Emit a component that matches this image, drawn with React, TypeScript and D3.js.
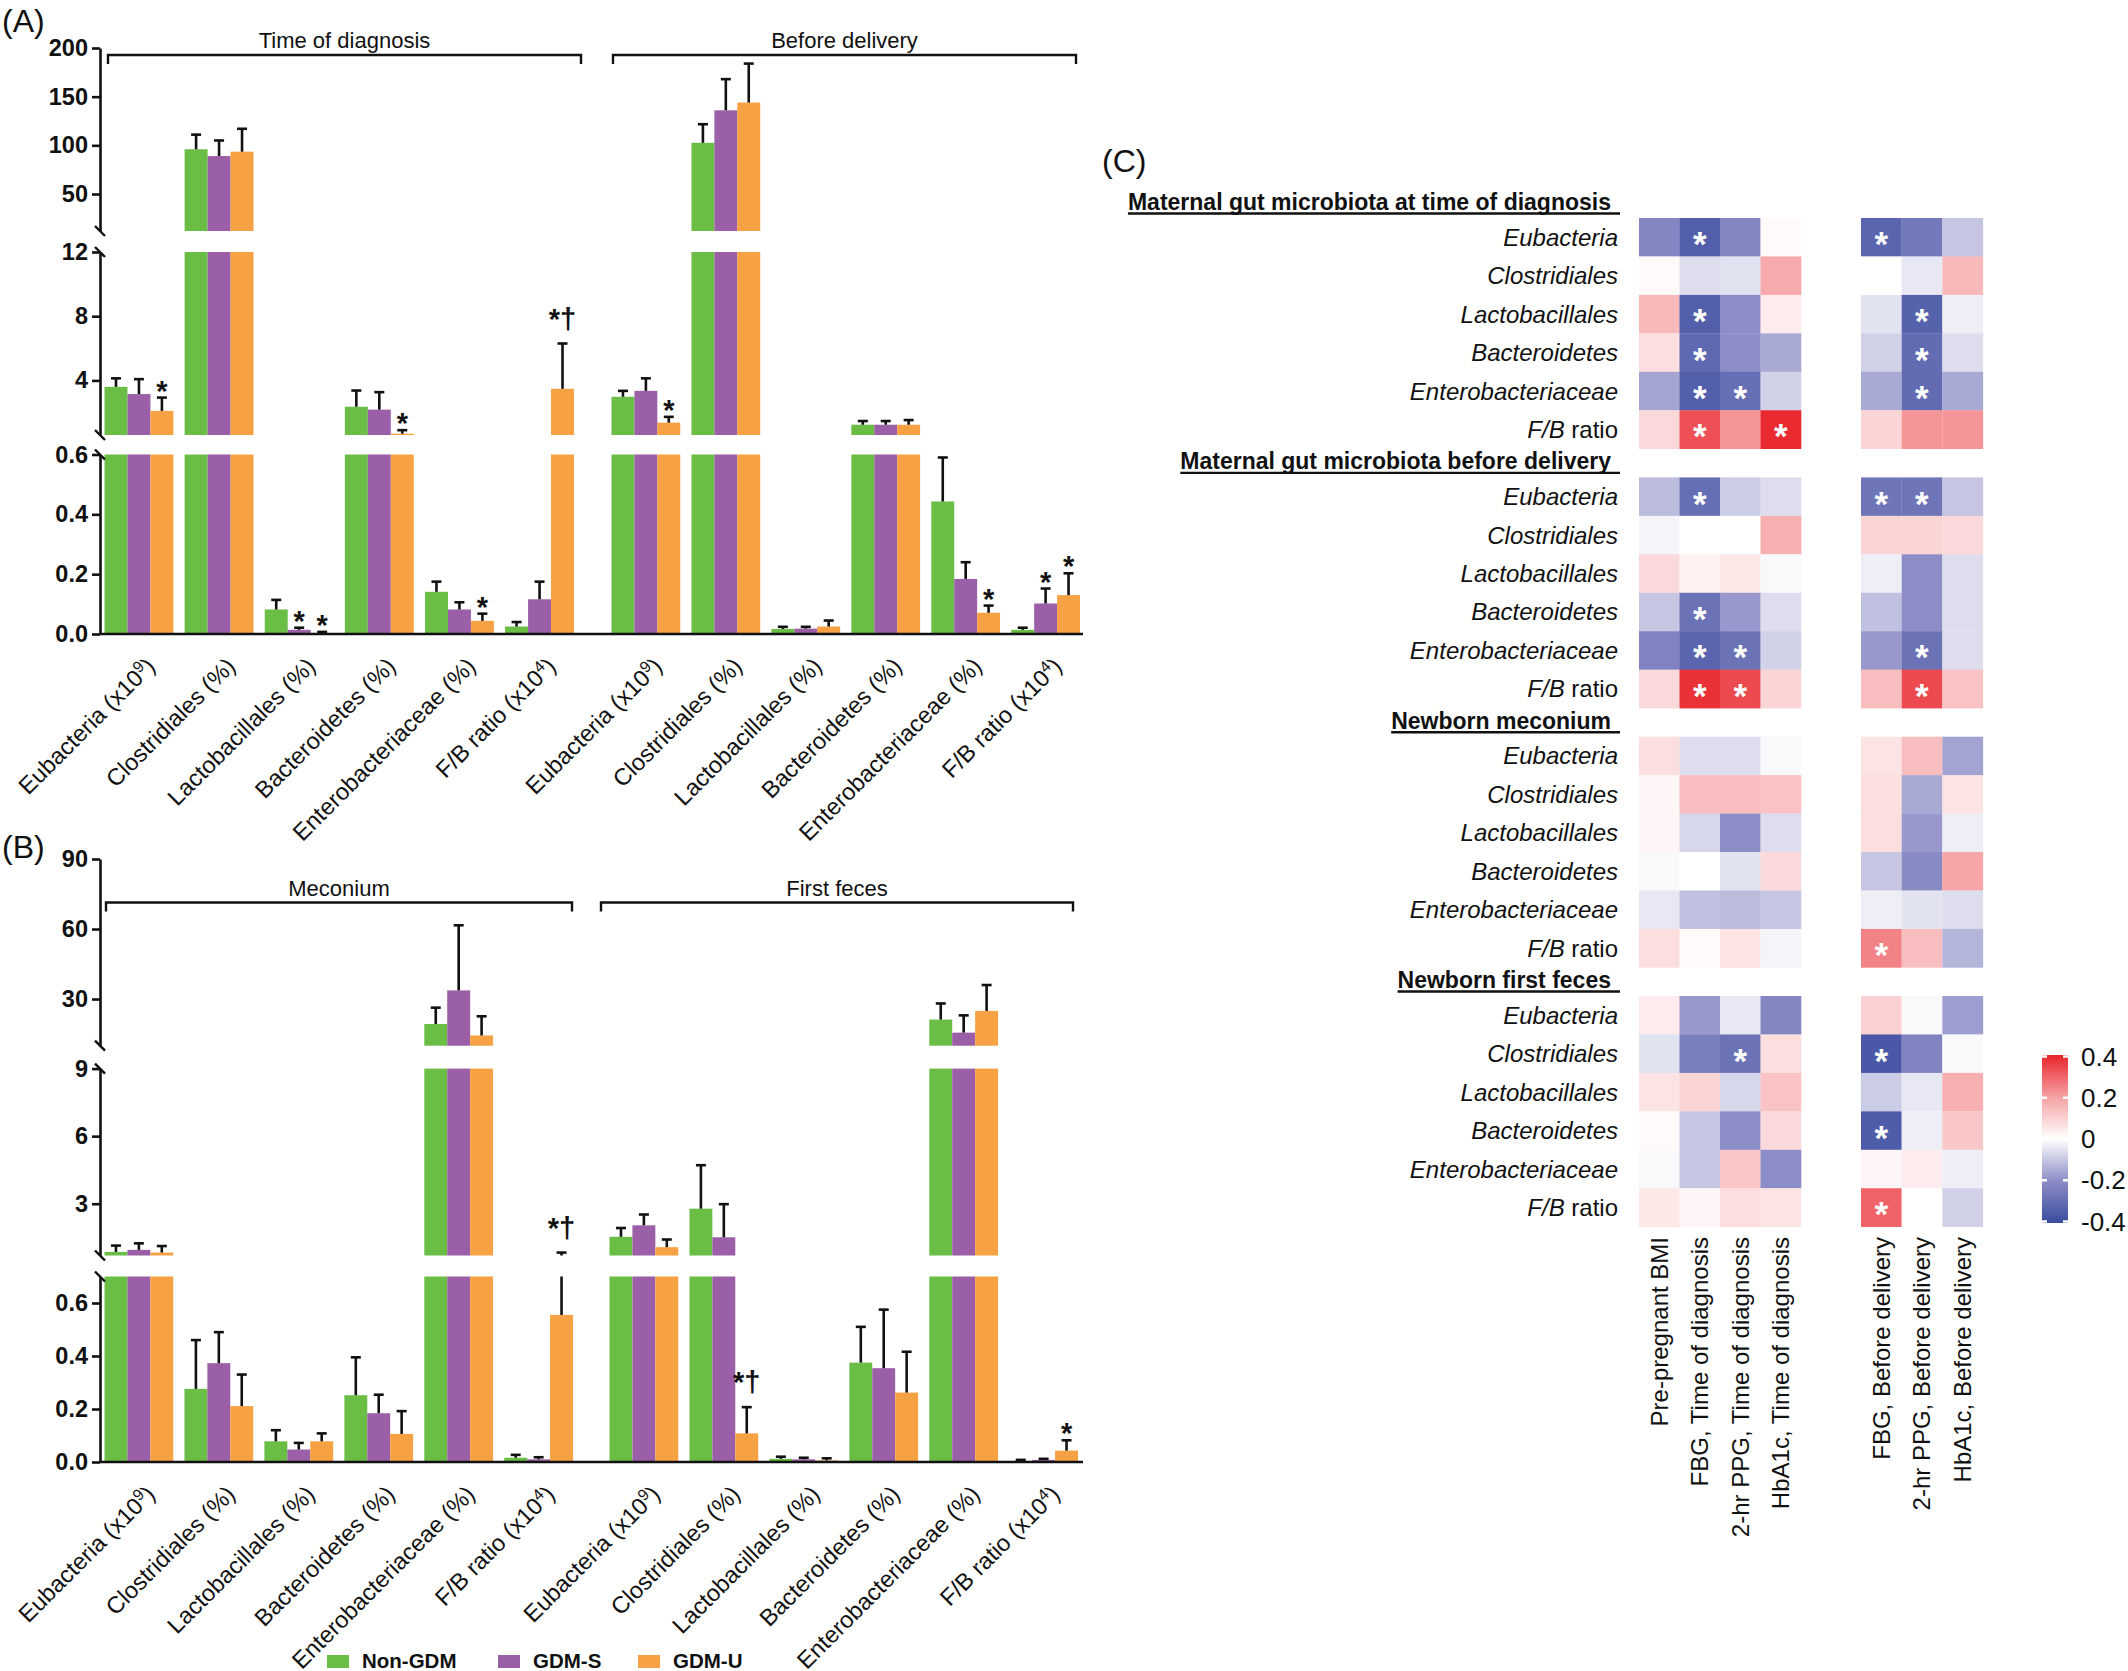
import { useEffect, useRef } from "react";
import * as d3 from "d3";

const FONT = "'Liberation Sans', Arial, Helvetica, sans-serif";

const groups = ["Non-GDM", "GDM-S", "GDM-U"];
const groupColors = ["#6abd45", "#9b5fa8", "#f7a145"];

const taxa = ["Eubacteria", "Clostridiales", "Lactobacillales", "Bacteroidetes", "Enterobacteriaceae", "F/B ratio"];
const taxaUnit = ["(x10^9)", "(%)", "(%)", "(%)", "(%)", "(x10^4)"];

// (A) maternal gut, time of diagnosis: bar = mean, err = top of error bar
const diagMean = [[3.6, 3.15, 2.1], [96, 89, 93.5], [0.082, 0.014, 0.003], [2.36, 2.18, 0.68], [0.141, 0.082, 0.044], [0.025, 0.116, 3.48]];
const diagErr = [[4.13, 4.08, 2.93], [111, 105, 117], [0.114, 0.021, 0.007], [3.37, 3.27, 0.9], [0.175, 0.106, 0.068], [0.04, 0.175, 6.3]];
const diagMarks = [["", "", "*"], ["", "", ""], ["", "*", "*"], ["", "", "*"], ["", "", "*"], ["", "", "*†"]];

// (A) maternal gut, before delivery
const delivMean = [[2.98, 3.35, 1.37], [102.6, 136, 144], [0.017, 0.018, 0.025], [1.24, 1.24, 1.24], [0.443, 0.184, 0.071], [0.014, 0.102, 0.13]];
const delivErr = [[3.35, 4.13, 1.73], [121.7, 168, 184], [0.024, 0.024, 0.045], [1.47, 1.47, 1.53], [0.59, 0.24, 0.095], [0.021, 0.152, 0.203]];
const delivMarks = [["", "", "*"], ["", "", ""], ["", "", ""], ["", "", ""], ["", "", "*"], ["", "*", "*"]];

// (B) newborn meconium
const mecMean = [[0.86, 0.95, 0.83], [0.276, 0.373, 0.211], [0.078, 0.047, 0.078], [0.252, 0.184, 0.106], [19.3, 33.7, 14.4], [0.016, 0.01, 0.555]];
const mecErr = [[1.14, 1.24, 1.12], [0.46, 0.49, 0.33], [0.12, 0.072, 0.108], [0.395, 0.254, 0.192], [26.3, 61.6, 22.6], [0.027, 0.018, 0.83]];
const mecMarks = [["", "", ""], ["", "", ""], ["", "", ""], ["", "", ""], ["", "", ""], ["", "", "*†"]];

// (B) newborn first feces
const fecMean = [[1.53, 2.04, 1.07], [2.78, 1.51, 0.108], [0.012, 0.01, 0.006], [0.375, 0.354, 0.262], [21.2, 15.6, 24.9], [0.004, 0.008, 0.043]];
const fecErr = [[1.92, 2.52, 1.41], [4.71, 2.98, 0.207], [0.02, 0.016, 0.014], [0.51, 0.575, 0.416], [28.1, 23, 36], [0.008, 0.012, 0.082]];
const fecMarks = [["", "", ""], ["", "", "*†"], ["", "", ""], ["", "", ""], ["", "", ""], ["", "", "*"]];

// (C) correlation heatmap
const hmCols = ["Pre-pregnant BMI", "FBG, Time of diagnosis", "2-hr PPG, Time of diagnosis", "HbA1c, Time of diagnosis", "FBG, Before delivery", "2-hr PPG, Before delivery", "HbA1c, Before delivery"];
const hmBlocks = ["Maternal gut microbiota at time of diagnosis", "Maternal gut microbiota before delivery", "Newborn meconium", "Newborn first feces"];

const rDiag = [
  [-0.22, -0.34, -0.22, 0.01, -0.32, -0.26, -0.1],
  [0.01, -0.06, -0.05, 0.18, 0, -0.04, 0.15],
  [0.15, -0.34, -0.2, 0.04, -0.05, -0.33, -0.03],
  [0.07, -0.31, -0.2, -0.15, -0.08, -0.3, -0.06],
  [-0.16, -0.34, -0.29, -0.08, -0.15, -0.3, -0.15],
  [0.08, 0.33, 0.22, 0.39, 0.09, 0.22, 0.22],
];
const rDeliv = [
  [-0.12, -0.29, -0.09, -0.06, -0.27, -0.27, -0.1],
  [-0.02, 0, 0, 0.17, 0.09, 0.09, 0.08],
  [0.08, 0.03, 0.05, -0.01, -0.03, -0.2, -0.06],
  [-0.1, -0.28, -0.18, -0.06, -0.11, -0.2, -0.06],
  [-0.23, -0.32, -0.28, -0.08, -0.18, -0.28, -0.06],
  [0.08, 0.38, 0.34, 0.09, 0.14, 0.34, 0.13],
];
const rMec = [
  [0.07, -0.06, -0.06, -0.01, 0.06, 0.14, -0.16],
  [0.02, 0.14, 0.14, 0.13, 0.07, -0.15, 0.06],
  [0.02, -0.07, -0.2, -0.06, 0.07, -0.18, -0.03],
  [-0.01, 0, -0.05, 0.08, -0.1, -0.21, 0.19],
  [-0.04, -0.11, -0.12, -0.1, -0.03, -0.05, -0.06],
  [0.07, 0.01, 0.06, -0.02, 0.25, 0.14, -0.13],
];
const rFec = [
  [0.04, -0.18, -0.04, -0.22, 0.1, -0.01, -0.17],
  [-0.05, -0.25, -0.28, 0.07, -0.36, -0.23, -0.01],
  [0.06, 0.09, -0.07, 0.13, -0.09, -0.04, 0.17],
  [0.01, -0.1, -0.2, 0.08, -0.35, -0.03, 0.12],
  [-0.01, -0.1, 0.12, -0.2, 0.02, 0.04, -0.03],
  [0.05, 0.02, 0.07, 0.06, 0.3, 0, -0.08],
];
// significant cells (column indices per row)
const sDiag = [[1, 4], [], [1, 5], [1, 5], [1, 2, 5], [1, 3]];
const sDeliv = [[1, 4, 5], [], [], [1], [1, 2, 5], [1, 2, 5]];
const sMec = [[], [], [], [], [], [4]];
const sFec = [[], [2, 4], [], [4], [], [4]];

const cbTicks = [0.4, 0.2, 0, -0.2, -0.4];

type Seg = { lo: number; hi: number; range: [number, number]; ticks: number[]; fmt: string };

function drawBarPanel(svg: any, cfg: any) {
  const segs: Seg[] = cfg.segs;
  const scales = segs.map((s) => d3.scaleLinear().domain([s.lo, s.hi]).range(s.range));
  const inner = d3.scaleBand().domain(groups).range([0, 0]);
  const g = svg.append("g");

  cfg.halves.forEach((half: any) => {
    const x = d3.scaleBand().domain(taxa).range(half.range).paddingInner(0.14).paddingOuter(0);
    inner.range([0, x.bandwidth()]);
    taxa.forEach((t, i) => {
      groups.forEach((grp, j) => {
        const x0 = x(t)! + inner(grp)!;
        const w = inner.bandwidth();
        const cx = x0 + w / 2;
        const v = half.means[i][j];
        const e = half.errs[i][j];
        segs.forEach((s, k) => {
          const sc = scales[k];
          if (v > s.lo) {
            const top = sc(Math.min(v, s.hi));
            g.append("rect")
              .attr("x", x0)
              .attr("y", top)
              .attr("width", w)
              .attr("height", Math.max(0.8, sc(s.lo) - top))
              .attr("fill", groupColors[j]);
          }
          const lb = Math.max(v, s.lo);
          const lt = Math.min(e, s.hi);
          if (lt > lb) {
            g.append("line")
              .attr("x1", cx).attr("x2", cx)
              .attr("y1", sc(lb)).attr("y2", sc(lt))
              .attr("stroke", "#111").attr("stroke-width", 2.6);
          }
          if (e > s.lo && e <= s.hi) {
            g.append("line")
              .attr("x1", cx - 5).attr("x2", cx + 5)
              .attr("y1", sc(e)).attr("y2", sc(e))
              .attr("stroke", "#111").attr("stroke-width", 2.6);
            const m = half.marks[i][j];
            if (m) {
              g.append("text")
                .attr("x", cx)
                .attr("y", sc(e) + (m.length > 1 ? -15 : 3))
                .attr("text-anchor", "middle")
                .attr("font-size", 29)
                .attr("font-weight", "bold")
                .text(m);
            }
          }
        });
      });

      // tick label
      const cxg = x(t)! + x.bandwidth() / 2;
      const unit = taxaUnit[i];
      const lbl = g.append("text")
        .attr("transform", `translate(${cxg + 6},${cfg.baseY + 22}) rotate(-45)`)
        .attr("text-anchor", "end")
        .attr("dy", "0.7em")
        .attr("font-size", 23.5);
      if (unit.includes("^")) {
        const [a, b] = unit.replace(")", "").split("^");
        lbl.append("tspan").text(`${t} ${a}`);
        lbl.append("tspan").attr("baseline-shift", "super").attr("font-size", 16).text(b);
        lbl.append("tspan").text(")");
      } else {
        lbl.text(`${t} ${unit}`);
      }
    });

    // bracket
    const [bx0, bx1] = half.bracket;
    g.append("path")
      .attr("d", `M${bx0},${cfg.bracketY + 9}V${cfg.bracketY}H${bx1}V${cfg.bracketY + 9}`)
      .attr("fill", "none").attr("stroke", "#111").attr("stroke-width", 2.4);
    g.append("text")
      .attr("x", (bx0 + bx1) / 2)
      .attr("y", cfg.bracketY - 7)
      .attr("text-anchor", "middle")
      .attr("font-size", 22)
      .text(half.label);
  });

  // y axis segments
  segs.forEach((s, k) => {
    const ax = g.append("g")
      .attr("transform", `translate(${cfg.axisX},0)`)
      .call(
        d3.axisLeft(scales[k])
          .tickValues(s.ticks)
          .tickSize(8)
          .tickSizeOuter(0)
          .tickPadding(4)
          .tickFormat(d3.format(s.fmt) as any)
      );
    ax.selectAll("path,line").attr("stroke", "#111").attr("stroke-width", 2.6);
    ax.selectAll("text")
      .attr("font-size", 23.5)
      .attr("font-weight", "bold")
      .attr("font-family", FONT)
      .attr("fill", "#111");
    if (k > 0) {
      const y = s.range[0];
      g.append("line").attr("x1", cfg.axisX - 5).attr("x2", cfg.axisX + 5)
        .attr("y1", y - 5).attr("y2", y + 5).attr("stroke", "#111").attr("stroke-width", 2.4);
    }
    if (k < segs.length - 1) {
      const y = s.range[1];
      g.append("line").attr("x1", cfg.axisX - 5).attr("x2", cfg.axisX + 5)
        .attr("y1", y - 5).attr("y2", y + 5).attr("stroke", "#111").attr("stroke-width", 2.4);
    }
  });

  g.append("line")
    .attr("x1", cfg.axisX).attr("x2", cfg.axisEnd)
    .attr("y1", cfg.baseY).attr("y2", cfg.baseY)
    .attr("stroke", "#111").attr("stroke-width", 2.6);
}

function drawHeatmap(svg: any) {
  const g = svg.append("g");
  const color = d3.scaleLinear<string>()
    .domain([-0.4, -0.2, 0, 0.2, 0.4])
    .range(["#3a4b9f", "#8c8dc6", "#ffffff", "#f5a1a4", "#e8252b"])
    .clamp(true);
  const xl = d3.scaleBand().domain(hmCols.slice(0, 4)).range([1639, 1801]);
  const xr = d3.scaleBand().domain(hmCols.slice(4)).range([1861, 1983]);
  const colX = (c: string, i: number) => (i < 4 ? xl(c)! : xr(c)!);
  const bw = xl.bandwidth();
  const blocks = [
    { top: 218, r: rDiag, s: sDiag },
    { top: 477.4, r: rDeliv, s: sDeliv },
    { top: 736.7, r: rMec, s: sMec },
    { top: 996, r: rFec, s: sFec },
  ];

  blocks.forEach((b, bi) => {
    const y = d3.scaleBand().domain(taxa).range([b.top, b.top + 230.7]);
    taxa.forEach((t, ri) => {
      hmCols.forEach((c, ci) => {
        g.append("rect")
          .attr("x", colX(c, ci))
          .attr("y", y(t)!)
          .attr("width", bw + 0.3)
          .attr("height", y.bandwidth() + 0.3)
          .attr("fill", color(b.r[ri][ci]));
        if (b.s[ri].includes(ci)) {
          g.append("text")
            .attr("x", colX(c, ci) + bw / 2)
            .attr("y", y(t)! + y.bandwidth() / 2 + 19)
            .attr("text-anchor", "middle")
            .attr("font-size", 35)
            .attr("font-weight", "bold")
            .attr("fill", "#fff")
            .text("*");
        }
      });
      const lbl = g.append("text")
        .attr("x", 1618)
        .attr("y", y(t)! + y.bandwidth() / 2 + 8.5)
        .attr("text-anchor", "end")
        .attr("font-size", 24);
      if (t === "F/B ratio") {
        lbl.append("tspan").attr("font-style", "italic").text("F/B");
        lbl.append("tspan").text(" ratio");
      } else {
        lbl.attr("font-style", "italic").text(t);
      }
    });
    // block header with underline
    const hy = b.top - 8;
    const ht = g.append("text")
      .attr("x", 1611)
      .attr("y", hy)
      .attr("text-anchor", "end")
      .attr("font-size", 23)
      .attr("font-weight", "bold")
      .text(hmBlocks[bi]);
    const len = (ht.node() as SVGTextElement).getComputedTextLength();
    g.append("line")
      .attr("x1", 1611 - len).attr("x2", 1620)
      .attr("y1", hy + 3.5).attr("y2", hy + 3.5)
      .attr("stroke", "#111").attr("stroke-width", 2.4);
  });

  hmCols.forEach((c, ci) => {
    g.append("text")
      .attr("transform", `translate(${colX(c, ci) + bw / 2 + 8.5},1237) rotate(-90)`)
      .attr("text-anchor", "end")
      .attr("font-size", 24)
      .text(c);
  });

  // colour bar
  const cb = d3.scaleLinear().domain([-0.4, 0.4]).range([1221.5, 1056.5]);
  const grad = svg.append("defs").append("linearGradient")
    .attr("id", "cbgrad").attr("x1", 0).attr("x2", 0).attr("y1", 1).attr("y2", 0);
  d3.range(-0.4, 0.4001, 0.05).forEach((v) => {
    grad.append("stop").attr("offset", (v + 0.4) / 0.8).attr("stop-color", color(v));
  });
  g.append("rect")
    .attr("x", 2042).attr("y", 1055).attr("width", 26).attr("height", 168)
    .attr("fill", "url(#cbgrad)");
  cbTicks.forEach((v) => {
    const ty = cb(v);
    [[2041, 2047], [2063, 2069]].forEach(([a, bb]) => {
      g.append("line").attr("x1", a).attr("x2", bb).attr("y1", ty).attr("y2", ty)
        .attr("stroke", "#fff").attr("stroke-width", 2.5);
    });
    g.append("text")
      .attr("x", 2081)
      .attr("y", ty + 9)
      .attr("font-size", 26)
      .text(v === 0 ? "0" : d3.format(".1f")(v).replace("−", "-"));
  });
}

export default function App() {
  const ref = useRef<SVGSVGElement>(null);

  useEffect(() => {
    const svg = d3.select(ref.current!);
    svg.selectAll("*").remove();
    svg.attr("font-family", FONT).attr("fill", "#111");

    svg.append("rect").attr("width", 2128).attr("height", 1671).attr("fill", "#fff");

    drawBarPanel(svg, {
      axisX: 100,
      axisEnd: 1083,
      baseY: 634,
      bracketY: 55,
      segs: [
        { lo: 0, hi: 0.6, range: [634, 454.5], ticks: [0, 0.2, 0.4, 0.6], fmt: ".1f" },
        { lo: 0.6, hi: 12, range: [435, 252], ticks: [4, 8, 12], fmt: "d" },
        { lo: 12, hi: 200, range: [231, 48], ticks: [50, 100, 150, 200], fmt: "d" },
      ],
      halves: [
        { range: [104.5, 574], means: diagMean, errs: diagErr, marks: diagMarks, bracket: [108, 581], label: "Time of diagnosis" },
        { range: [611.5, 1080], means: delivMean, errs: delivErr, marks: delivMarks, bracket: [613, 1076], label: "Before delivery" },
      ],
    });

    drawBarPanel(svg, {
      axisX: 100,
      axisEnd: 1083,
      baseY: 1462,
      bracketY: 902.5,
      segs: [
        { lo: 0, hi: 0.7, range: [1462, 1276.5], ticks: [0, 0.2, 0.4, 0.6], fmt: ".1f" },
        { lo: 0.7, hi: 9, range: [1255.5, 1068.6], ticks: [3, 6, 9], fmt: "d" },
        { lo: 10, hi: 90, range: [1045.7, 859], ticks: [30, 60, 90], fmt: "d" },
      ],
      halves: [
        { range: [104.5, 573], means: mecMean, errs: mecErr, marks: mecMarks, bracket: [106, 572], label: "Meconium" },
        { range: [609.5, 1078], means: fecMean, errs: fecErr, marks: fecMarks, bracket: [601, 1073], label: "First feces" },
      ],
    });

    // legend
    const leg = svg.append("g");
    const lx = [327, 498, 638];
    groups.forEach((grp, j) => {
      leg.append("rect").attr("x", lx[j]).attr("y", 1655).attr("width", 22).attr("height", 13)
        .attr("fill", groupColors[j]);
      leg.append("text").attr("x", lx[j] + 35).attr("y", 1668)
        .attr("font-size", 20.5).attr("font-weight", "bold").text(grp);
    });

    // panel letters
    [["(A)", 2, 32], ["(B)", 2, 858], ["(C)", 1102, 172]].forEach(([t, x, y]) => {
      svg.append("text").attr("x", x).attr("y", y).attr("font-size", 32).text(t as string);
    });

    drawHeatmap(svg);
  }, []);

  return (
    <svg
      ref={ref}
      width={2128}
      height={1671}
      style={{ position: "absolute", left: 0, top: 0, display: "block" }}
    />
  );
}
